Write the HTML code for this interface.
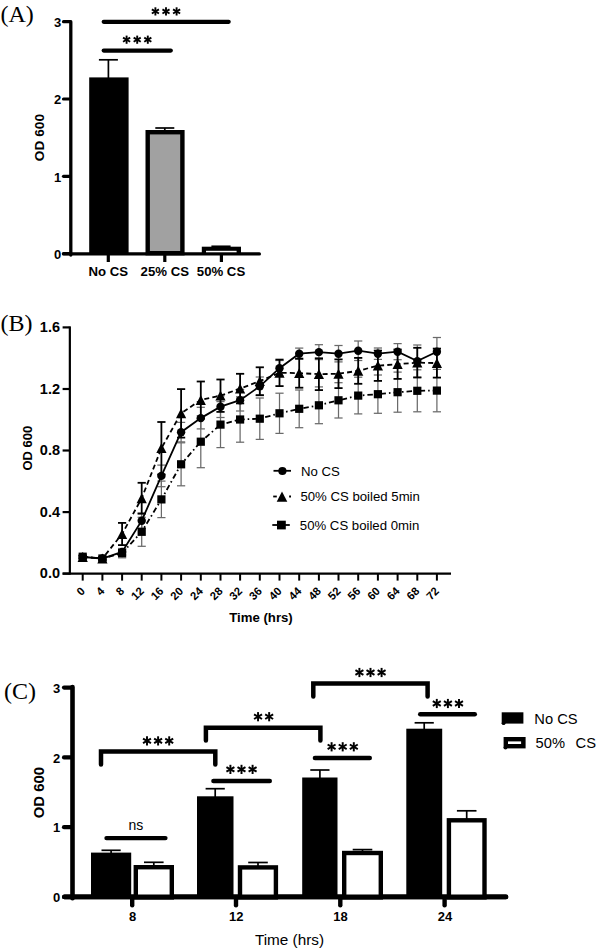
<!DOCTYPE html>
<html><head><meta charset="utf-8"><title>Figure</title>
<style>html,body{margin:0;padding:0;background:#fff;}body{width:598px;height:951px;overflow:hidden;font-family:"Liberation Sans",sans-serif;}svg{display:block;}</style>
</head><body>
<svg width="598" height="951" viewBox="0 0 598 951">
<rect width="598" height="951" fill="#fff"/>
<text x="0.5" y="22" font-family="Liberation Serif, serif" font-size="24">(A)</text>
<line x1="70.8" y1="21.700000000000017" x2="70.8" y2="255" stroke="#000" stroke-width="3.3" stroke-linecap="round"/>
<line x1="63.5" y1="253.9" x2="259.4" y2="253.9" stroke="#000" stroke-width="3.3" stroke-linecap="round"/>
<line x1="63.5" y1="253.6" x2="70" y2="253.6" stroke="#000" stroke-width="3.2" stroke-linecap="round"/>
<text x="61.2" y="258.9" font-family="Liberation Sans, sans-serif" font-size="13" font-weight="bold" text-anchor="end">0</text>
<line x1="63.5" y1="176.3" x2="70" y2="176.3" stroke="#000" stroke-width="3.2" stroke-linecap="round"/>
<text x="61.2" y="181.6" font-family="Liberation Sans, sans-serif" font-size="13" font-weight="bold" text-anchor="end">1</text>
<line x1="63.5" y1="99.0" x2="70" y2="99.0" stroke="#000" stroke-width="3.2" stroke-linecap="round"/>
<text x="61.2" y="104.3" font-family="Liberation Sans, sans-serif" font-size="13" font-weight="bold" text-anchor="end">2</text>
<line x1="63.5" y1="21.7" x2="70" y2="21.7" stroke="#000" stroke-width="3.2" stroke-linecap="round"/>
<text x="61.2" y="27.0" font-family="Liberation Sans, sans-serif" font-size="13" font-weight="bold" text-anchor="end">3</text>
<line x1="108.3" y1="254" x2="108.3" y2="262" stroke="#000" stroke-width="3.2"/>
<line x1="164.8" y1="254" x2="164.8" y2="262" stroke="#000" stroke-width="3.2"/>
<line x1="221.4" y1="254" x2="221.4" y2="262" stroke="#000" stroke-width="3.2"/>
<text x="108.3" y="275.9" font-family="Liberation Sans, sans-serif" font-size="13.2" font-weight="bold" text-anchor="middle">No CS</text>
<text x="164.8" y="275.9" font-family="Liberation Sans, sans-serif" font-size="13.2" font-weight="bold" text-anchor="middle">25% CS</text>
<text x="221.0" y="275.9" font-family="Liberation Sans, sans-serif" font-size="13.2" font-weight="bold" text-anchor="middle">50% CS</text>
<text transform="translate(44.4,137.6) rotate(-90)" font-family="Liberation Sans, sans-serif" font-size="13.7" font-weight="bold" text-anchor="middle">OD 600</text>
<line x1="108.4" y1="59.8" x2="108.4" y2="78" stroke="#000" stroke-width="1.7"/><line x1="98.9" y1="59.8" x2="117.9" y2="59.8" stroke="#000" stroke-width="1.7"/>
<line x1="164.8" y1="128" x2="164.8" y2="131" stroke="#000" stroke-width="1.7"/><line x1="155.3" y1="128" x2="174.3" y2="128" stroke="#000" stroke-width="1.7"/>
<line x1="221" y1="246.3" x2="221" y2="248" stroke="#000" stroke-width="1.7"/><line x1="211.4" y1="246.3" x2="230.6" y2="246.3" stroke="#000" stroke-width="1.7"/>
<rect x="89.2" y="77.4" width="39.4" height="176.3" fill="#000"/>
<rect x="147.7" y="132.2" width="34.7" height="121" fill="#a1a1a1" stroke="#000" stroke-width="4.4"/>
<rect x="201.8" y="246.7" width="39.2" height="7" fill="#000"/><rect x="206" y="250.8" width="30.6" height="1.5" fill="#fff"/>
<line x1="103.7" y1="50.6" x2="170.8" y2="50.6" stroke="#000" stroke-width="4.2" stroke-linecap="round"/>
<line x1="103.7" y1="21.8" x2="228.7" y2="21.8" stroke="#000" stroke-width="4.2" stroke-linecap="round"/>
<line x1="126.60" y1="35.60" x2="126.60" y2="43.80" stroke="#000" stroke-width="1.9"/><line x1="123.05" y1="37.65" x2="130.15" y2="41.75" stroke="#000" stroke-width="1.9"/><line x1="123.05" y1="41.75" x2="130.15" y2="37.65" stroke="#000" stroke-width="1.9"/><line x1="137.20" y1="35.60" x2="137.20" y2="43.80" stroke="#000" stroke-width="1.9"/><line x1="133.65" y1="37.65" x2="140.75" y2="41.75" stroke="#000" stroke-width="1.9"/><line x1="133.65" y1="41.75" x2="140.75" y2="37.65" stroke="#000" stroke-width="1.9"/><line x1="147.80" y1="35.60" x2="147.80" y2="43.80" stroke="#000" stroke-width="1.9"/><line x1="144.25" y1="37.65" x2="151.35" y2="41.75" stroke="#000" stroke-width="1.9"/><line x1="144.25" y1="41.75" x2="151.35" y2="37.65" stroke="#000" stroke-width="1.9"/>
<line x1="155.40" y1="7.30" x2="155.40" y2="15.50" stroke="#000" stroke-width="1.9"/><line x1="151.85" y1="9.35" x2="158.95" y2="13.45" stroke="#000" stroke-width="1.9"/><line x1="151.85" y1="13.45" x2="158.95" y2="9.35" stroke="#000" stroke-width="1.9"/><line x1="166.00" y1="7.30" x2="166.00" y2="15.50" stroke="#000" stroke-width="1.9"/><line x1="162.45" y1="9.35" x2="169.55" y2="13.45" stroke="#000" stroke-width="1.9"/><line x1="162.45" y1="13.45" x2="169.55" y2="9.35" stroke="#000" stroke-width="1.9"/><line x1="176.60" y1="7.30" x2="176.60" y2="15.50" stroke="#000" stroke-width="1.9"/><line x1="173.05" y1="9.35" x2="180.15" y2="13.45" stroke="#000" stroke-width="1.9"/><line x1="173.05" y1="13.45" x2="180.15" y2="9.35" stroke="#000" stroke-width="1.9"/>
<text x="0.5" y="330.5" font-family="Liberation Serif, serif" font-size="24">(B)</text>
<line x1="69.85" y1="326.34000000000003" x2="69.85" y2="574.6" stroke="#000" stroke-width="2.2"/>
<line x1="62.6" y1="573.6" x2="451" y2="573.6" stroke="#000" stroke-width="2.2"/>
<line x1="62.6" y1="573.6" x2="69.5" y2="573.6" stroke="#000" stroke-width="2.2"/>
<text x="60" y="578.4" font-family="Liberation Sans, sans-serif" font-size="14.5" font-weight="bold" text-anchor="end">0.0</text>
<line x1="62.6" y1="512.1" x2="69.5" y2="512.1" stroke="#000" stroke-width="2.2"/>
<text x="60" y="516.9" font-family="Liberation Sans, sans-serif" font-size="14.5" font-weight="bold" text-anchor="end">0.4</text>
<line x1="62.6" y1="450.5" x2="69.5" y2="450.5" stroke="#000" stroke-width="2.2"/>
<text x="60" y="455.3" font-family="Liberation Sans, sans-serif" font-size="14.5" font-weight="bold" text-anchor="end">0.8</text>
<line x1="62.6" y1="389.0" x2="69.5" y2="389.0" stroke="#000" stroke-width="2.2"/>
<text x="60" y="393.8" font-family="Liberation Sans, sans-serif" font-size="14.5" font-weight="bold" text-anchor="end">1.2</text>
<line x1="62.6" y1="327.4" x2="69.5" y2="327.4" stroke="#000" stroke-width="2.2"/>
<text x="60" y="332.2" font-family="Liberation Sans, sans-serif" font-size="14.5" font-weight="bold" text-anchor="end">1.6</text>
<line x1="82.7" y1="573" x2="82.7" y2="580.6" stroke="#000" stroke-width="2"/>
<text transform="translate(85.6,591.8) rotate(-45)" font-family="Liberation Sans, sans-serif" font-size="11.3" font-weight="bold" text-anchor="end">0</text>
<line x1="102.4" y1="573" x2="102.4" y2="580.6" stroke="#000" stroke-width="2"/>
<text transform="translate(105.3,591.8) rotate(-45)" font-family="Liberation Sans, sans-serif" font-size="11.3" font-weight="bold" text-anchor="end">4</text>
<line x1="122.1" y1="573" x2="122.1" y2="580.6" stroke="#000" stroke-width="2"/>
<text transform="translate(125.0,591.8) rotate(-45)" font-family="Liberation Sans, sans-serif" font-size="11.3" font-weight="bold" text-anchor="end">8</text>
<line x1="141.7" y1="573" x2="141.7" y2="580.6" stroke="#000" stroke-width="2"/>
<text transform="translate(144.6,591.8) rotate(-45)" font-family="Liberation Sans, sans-serif" font-size="11.3" font-weight="bold" text-anchor="end">12</text>
<line x1="161.4" y1="573" x2="161.4" y2="580.6" stroke="#000" stroke-width="2"/>
<text transform="translate(164.3,591.8) rotate(-45)" font-family="Liberation Sans, sans-serif" font-size="11.3" font-weight="bold" text-anchor="end">16</text>
<line x1="181.1" y1="573" x2="181.1" y2="580.6" stroke="#000" stroke-width="2"/>
<text transform="translate(184.0,591.8) rotate(-45)" font-family="Liberation Sans, sans-serif" font-size="11.3" font-weight="bold" text-anchor="end">20</text>
<line x1="200.8" y1="573" x2="200.8" y2="580.6" stroke="#000" stroke-width="2"/>
<text transform="translate(203.7,591.8) rotate(-45)" font-family="Liberation Sans, sans-serif" font-size="11.3" font-weight="bold" text-anchor="end">24</text>
<line x1="220.5" y1="573" x2="220.5" y2="580.6" stroke="#000" stroke-width="2"/>
<text transform="translate(223.4,591.8) rotate(-45)" font-family="Liberation Sans, sans-serif" font-size="11.3" font-weight="bold" text-anchor="end">28</text>
<line x1="240.1" y1="573" x2="240.1" y2="580.6" stroke="#000" stroke-width="2"/>
<text transform="translate(243.0,591.8) rotate(-45)" font-family="Liberation Sans, sans-serif" font-size="11.3" font-weight="bold" text-anchor="end">32</text>
<line x1="259.8" y1="573" x2="259.8" y2="580.6" stroke="#000" stroke-width="2"/>
<text transform="translate(262.7,591.8) rotate(-45)" font-family="Liberation Sans, sans-serif" font-size="11.3" font-weight="bold" text-anchor="end">36</text>
<line x1="279.5" y1="573" x2="279.5" y2="580.6" stroke="#000" stroke-width="2"/>
<text transform="translate(282.4,591.8) rotate(-45)" font-family="Liberation Sans, sans-serif" font-size="11.3" font-weight="bold" text-anchor="end">40</text>
<line x1="299.2" y1="573" x2="299.2" y2="580.6" stroke="#000" stroke-width="2"/>
<text transform="translate(302.1,591.8) rotate(-45)" font-family="Liberation Sans, sans-serif" font-size="11.3" font-weight="bold" text-anchor="end">44</text>
<line x1="318.9" y1="573" x2="318.9" y2="580.6" stroke="#000" stroke-width="2"/>
<text transform="translate(321.8,591.8) rotate(-45)" font-family="Liberation Sans, sans-serif" font-size="11.3" font-weight="bold" text-anchor="end">48</text>
<line x1="338.5" y1="573" x2="338.5" y2="580.6" stroke="#000" stroke-width="2"/>
<text transform="translate(341.4,591.8) rotate(-45)" font-family="Liberation Sans, sans-serif" font-size="11.3" font-weight="bold" text-anchor="end">52</text>
<line x1="358.2" y1="573" x2="358.2" y2="580.6" stroke="#000" stroke-width="2"/>
<text transform="translate(361.1,591.8) rotate(-45)" font-family="Liberation Sans, sans-serif" font-size="11.3" font-weight="bold" text-anchor="end">56</text>
<line x1="377.9" y1="573" x2="377.9" y2="580.6" stroke="#000" stroke-width="2"/>
<text transform="translate(380.8,591.8) rotate(-45)" font-family="Liberation Sans, sans-serif" font-size="11.3" font-weight="bold" text-anchor="end">60</text>
<line x1="397.6" y1="573" x2="397.6" y2="580.6" stroke="#000" stroke-width="2"/>
<text transform="translate(400.5,591.8) rotate(-45)" font-family="Liberation Sans, sans-serif" font-size="11.3" font-weight="bold" text-anchor="end">64</text>
<line x1="417.3" y1="573" x2="417.3" y2="580.6" stroke="#000" stroke-width="2"/>
<text transform="translate(420.2,591.8) rotate(-45)" font-family="Liberation Sans, sans-serif" font-size="11.3" font-weight="bold" text-anchor="end">68</text>
<line x1="436.9" y1="573" x2="436.9" y2="580.6" stroke="#000" stroke-width="2"/>
<text transform="translate(439.8,591.8) rotate(-45)" font-family="Liberation Sans, sans-serif" font-size="11.3" font-weight="bold" text-anchor="end">72</text>
<text x="261" y="621.5" font-family="Liberation Sans, sans-serif" font-size="13.2" font-weight="bold" text-anchor="middle">Time (hrs)</text>
<text transform="translate(32.1,448.2) rotate(-90)" font-family="Liberation Sans, sans-serif" font-size="13" font-weight="bold" text-anchor="middle">OD 600</text>
<line x1="82.7" y1="555.2" x2="82.7" y2="558.2" stroke="#6a6a6a" stroke-width="1.25"/><line x1="78.6" y1="555.2" x2="86.8" y2="555.2" stroke="#6a6a6a" stroke-width="1.25"/><line x1="78.6" y1="558.2" x2="86.8" y2="558.2" stroke="#6a6a6a" stroke-width="1.25"/>
<line x1="82.7" y1="555.5" x2="82.7" y2="558.5" stroke="#6a6a6a" stroke-width="1.25"/><line x1="78.6" y1="555.5" x2="86.8" y2="555.5" stroke="#6a6a6a" stroke-width="1.25"/><line x1="78.6" y1="558.5" x2="86.8" y2="558.5" stroke="#6a6a6a" stroke-width="1.25"/>
<line x1="102.4" y1="557.0" x2="102.4" y2="560.1" stroke="#6a6a6a" stroke-width="1.25"/><line x1="98.3" y1="557.0" x2="106.5" y2="557.0" stroke="#6a6a6a" stroke-width="1.25"/><line x1="98.3" y1="560.1" x2="106.5" y2="560.1" stroke="#6a6a6a" stroke-width="1.25"/>
<line x1="102.4" y1="557.0" x2="102.4" y2="560.1" stroke="#6a6a6a" stroke-width="1.25"/><line x1="98.3" y1="557.0" x2="106.5" y2="557.0" stroke="#6a6a6a" stroke-width="1.25"/><line x1="98.3" y1="560.1" x2="106.5" y2="560.1" stroke="#6a6a6a" stroke-width="1.25"/>
<line x1="122.1" y1="548.5" x2="122.1" y2="557.8" stroke="#6a6a6a" stroke-width="1.25"/><line x1="118.0" y1="548.5" x2="126.2" y2="548.5" stroke="#6a6a6a" stroke-width="1.25"/><line x1="118.0" y1="557.8" x2="126.2" y2="557.8" stroke="#6a6a6a" stroke-width="1.25"/>
<line x1="122.1" y1="548.8" x2="122.1" y2="555.0" stroke="#6a6a6a" stroke-width="1.25"/><line x1="118.0" y1="548.8" x2="126.2" y2="548.8" stroke="#6a6a6a" stroke-width="1.25"/><line x1="118.0" y1="555.0" x2="126.2" y2="555.0" stroke="#6a6a6a" stroke-width="1.25"/>
<line x1="141.7" y1="517.3" x2="141.7" y2="546.3" stroke="#6a6a6a" stroke-width="1.25"/><line x1="137.6" y1="517.3" x2="145.8" y2="517.3" stroke="#6a6a6a" stroke-width="1.25"/><line x1="137.6" y1="546.3" x2="145.8" y2="546.3" stroke="#6a6a6a" stroke-width="1.25"/>
<line x1="141.7" y1="513.0" x2="141.7" y2="528.4" stroke="#6a6a6a" stroke-width="1.25"/><line x1="137.6" y1="513.0" x2="145.8" y2="513.0" stroke="#6a6a6a" stroke-width="1.25"/><line x1="137.6" y1="528.4" x2="145.8" y2="528.4" stroke="#6a6a6a" stroke-width="1.25"/>
<line x1="161.4" y1="481.1" x2="161.4" y2="517.6" stroke="#6a6a6a" stroke-width="1.25"/><line x1="157.3" y1="481.1" x2="165.5" y2="481.1" stroke="#6a6a6a" stroke-width="1.25"/><line x1="157.3" y1="517.6" x2="165.5" y2="517.6" stroke="#6a6a6a" stroke-width="1.25"/>
<line x1="161.4" y1="465.1" x2="161.4" y2="486.7" stroke="#6a6a6a" stroke-width="1.25"/><line x1="157.3" y1="465.1" x2="165.5" y2="465.1" stroke="#6a6a6a" stroke-width="1.25"/><line x1="157.3" y1="486.7" x2="165.5" y2="486.7" stroke="#6a6a6a" stroke-width="1.25"/>
<line x1="181.1" y1="442.8" x2="181.1" y2="485.8" stroke="#6a6a6a" stroke-width="1.25"/><line x1="177.0" y1="442.8" x2="185.2" y2="442.8" stroke="#6a6a6a" stroke-width="1.25"/><line x1="177.0" y1="485.8" x2="185.2" y2="485.8" stroke="#6a6a6a" stroke-width="1.25"/>
<line x1="181.1" y1="422.4" x2="181.1" y2="441.9" stroke="#6a6a6a" stroke-width="1.25"/><line x1="177.0" y1="422.4" x2="185.2" y2="422.4" stroke="#6a6a6a" stroke-width="1.25"/><line x1="177.0" y1="441.9" x2="185.2" y2="441.9" stroke="#6a6a6a" stroke-width="1.25"/>
<line x1="200.8" y1="415.8" x2="200.8" y2="467.7" stroke="#6a6a6a" stroke-width="1.25"/><line x1="196.7" y1="415.8" x2="204.9" y2="415.8" stroke="#6a6a6a" stroke-width="1.25"/><line x1="196.7" y1="467.7" x2="204.9" y2="467.7" stroke="#6a6a6a" stroke-width="1.25"/>
<line x1="200.8" y1="407.3" x2="200.8" y2="428.9" stroke="#6a6a6a" stroke-width="1.25"/><line x1="196.7" y1="407.3" x2="204.9" y2="407.3" stroke="#6a6a6a" stroke-width="1.25"/><line x1="196.7" y1="428.9" x2="204.9" y2="428.9" stroke="#6a6a6a" stroke-width="1.25"/>
<line x1="220.5" y1="401.6" x2="220.5" y2="447.6" stroke="#6a6a6a" stroke-width="1.25"/><line x1="216.4" y1="401.6" x2="224.6" y2="401.6" stroke="#6a6a6a" stroke-width="1.25"/><line x1="216.4" y1="447.6" x2="224.6" y2="447.6" stroke="#6a6a6a" stroke-width="1.25"/>
<line x1="220.5" y1="395.9" x2="220.5" y2="417.5" stroke="#6a6a6a" stroke-width="1.25"/><line x1="216.4" y1="395.9" x2="224.6" y2="395.9" stroke="#6a6a6a" stroke-width="1.25"/><line x1="216.4" y1="417.5" x2="224.6" y2="417.5" stroke="#6a6a6a" stroke-width="1.25"/>
<line x1="240.1" y1="396.8" x2="240.1" y2="442.2" stroke="#6a6a6a" stroke-width="1.25"/><line x1="236.0" y1="396.8" x2="244.2" y2="396.8" stroke="#6a6a6a" stroke-width="1.25"/><line x1="236.0" y1="442.2" x2="244.2" y2="442.2" stroke="#6a6a6a" stroke-width="1.25"/>
<line x1="240.1" y1="389.4" x2="240.1" y2="411.0" stroke="#6a6a6a" stroke-width="1.25"/><line x1="236.0" y1="389.4" x2="244.2" y2="389.4" stroke="#6a6a6a" stroke-width="1.25"/><line x1="236.0" y1="411.0" x2="244.2" y2="411.0" stroke="#6a6a6a" stroke-width="1.25"/>
<line x1="259.8" y1="398.0" x2="259.8" y2="439.4" stroke="#6a6a6a" stroke-width="1.25"/><line x1="255.7" y1="398.0" x2="263.9" y2="398.0" stroke="#6a6a6a" stroke-width="1.25"/><line x1="255.7" y1="439.4" x2="263.9" y2="439.4" stroke="#6a6a6a" stroke-width="1.25"/>
<line x1="259.8" y1="377.0" x2="259.8" y2="395.6" stroke="#6a6a6a" stroke-width="1.25"/><line x1="255.7" y1="377.0" x2="263.9" y2="377.0" stroke="#6a6a6a" stroke-width="1.25"/><line x1="255.7" y1="395.6" x2="263.9" y2="395.6" stroke="#6a6a6a" stroke-width="1.25"/>
<line x1="279.5" y1="393.2" x2="279.5" y2="433.4" stroke="#6a6a6a" stroke-width="1.25"/><line x1="275.4" y1="393.2" x2="283.6" y2="393.2" stroke="#6a6a6a" stroke-width="1.25"/><line x1="275.4" y1="433.4" x2="283.6" y2="433.4" stroke="#6a6a6a" stroke-width="1.25"/>
<line x1="279.5" y1="360.5" x2="279.5" y2="375.9" stroke="#6a6a6a" stroke-width="1.25"/><line x1="275.4" y1="360.5" x2="283.6" y2="360.5" stroke="#6a6a6a" stroke-width="1.25"/><line x1="275.4" y1="375.9" x2="283.6" y2="375.9" stroke="#6a6a6a" stroke-width="1.25"/>
<line x1="299.2" y1="390.0" x2="299.2" y2="427.7" stroke="#6a6a6a" stroke-width="1.25"/><line x1="295.1" y1="390.0" x2="303.3" y2="390.0" stroke="#6a6a6a" stroke-width="1.25"/><line x1="295.1" y1="427.7" x2="303.3" y2="427.7" stroke="#6a6a6a" stroke-width="1.25"/>
<line x1="299.2" y1="348.1" x2="299.2" y2="359.2" stroke="#6a6a6a" stroke-width="1.25"/><line x1="295.1" y1="348.1" x2="303.3" y2="348.1" stroke="#6a6a6a" stroke-width="1.25"/><line x1="295.1" y1="359.2" x2="303.3" y2="359.2" stroke="#6a6a6a" stroke-width="1.25"/>
<line x1="318.9" y1="386.9" x2="318.9" y2="423.7" stroke="#6a6a6a" stroke-width="1.25"/><line x1="314.8" y1="386.9" x2="323.0" y2="386.9" stroke="#6a6a6a" stroke-width="1.25"/><line x1="314.8" y1="423.7" x2="323.0" y2="423.7" stroke="#6a6a6a" stroke-width="1.25"/>
<line x1="318.9" y1="344.7" x2="318.9" y2="359.6" stroke="#6a6a6a" stroke-width="1.25"/><line x1="314.8" y1="344.7" x2="323.0" y2="344.7" stroke="#6a6a6a" stroke-width="1.25"/><line x1="314.8" y1="359.6" x2="323.0" y2="359.6" stroke="#6a6a6a" stroke-width="1.25"/>
<line x1="338.5" y1="382.7" x2="338.5" y2="418.0" stroke="#6a6a6a" stroke-width="1.25"/><line x1="334.4" y1="382.7" x2="342.6" y2="382.7" stroke="#6a6a6a" stroke-width="1.25"/><line x1="334.4" y1="418.0" x2="342.6" y2="418.0" stroke="#6a6a6a" stroke-width="1.25"/>
<line x1="338.5" y1="345.5" x2="338.5" y2="361.9" stroke="#6a6a6a" stroke-width="1.25"/><line x1="334.4" y1="345.5" x2="342.6" y2="345.5" stroke="#6a6a6a" stroke-width="1.25"/><line x1="334.4" y1="361.9" x2="342.6" y2="361.9" stroke="#6a6a6a" stroke-width="1.25"/>
<line x1="358.2" y1="377.2" x2="358.2" y2="413.9" stroke="#6a6a6a" stroke-width="1.25"/><line x1="354.1" y1="377.2" x2="362.3" y2="377.2" stroke="#6a6a6a" stroke-width="1.25"/><line x1="354.1" y1="413.9" x2="362.3" y2="413.9" stroke="#6a6a6a" stroke-width="1.25"/>
<line x1="358.2" y1="341.0" x2="358.2" y2="360.5" stroke="#6a6a6a" stroke-width="1.25"/><line x1="354.1" y1="341.0" x2="362.3" y2="341.0" stroke="#6a6a6a" stroke-width="1.25"/><line x1="354.1" y1="360.5" x2="362.3" y2="360.5" stroke="#6a6a6a" stroke-width="1.25"/>
<line x1="377.9" y1="375.0" x2="377.9" y2="413.3" stroke="#6a6a6a" stroke-width="1.25"/><line x1="373.8" y1="375.0" x2="382.0" y2="375.0" stroke="#6a6a6a" stroke-width="1.25"/><line x1="373.8" y1="413.3" x2="382.0" y2="413.3" stroke="#6a6a6a" stroke-width="1.25"/>
<line x1="377.9" y1="348.0" x2="377.9" y2="359.4" stroke="#6a6a6a" stroke-width="1.25"/><line x1="373.8" y1="348.0" x2="382.0" y2="348.0" stroke="#6a6a6a" stroke-width="1.25"/><line x1="373.8" y1="359.4" x2="382.0" y2="359.4" stroke="#6a6a6a" stroke-width="1.25"/>
<line x1="397.6" y1="372.1" x2="397.6" y2="412.2" stroke="#6a6a6a" stroke-width="1.25"/><line x1="393.5" y1="372.1" x2="401.7" y2="372.1" stroke="#6a6a6a" stroke-width="1.25"/><line x1="393.5" y1="412.2" x2="401.7" y2="412.2" stroke="#6a6a6a" stroke-width="1.25"/>
<line x1="397.6" y1="343.6" x2="397.6" y2="359.7" stroke="#6a6a6a" stroke-width="1.25"/><line x1="393.5" y1="343.6" x2="401.7" y2="343.6" stroke="#6a6a6a" stroke-width="1.25"/><line x1="393.5" y1="359.7" x2="401.7" y2="359.7" stroke="#6a6a6a" stroke-width="1.25"/>
<line x1="417.3" y1="369.8" x2="417.3" y2="411.8" stroke="#6a6a6a" stroke-width="1.25"/><line x1="413.2" y1="369.8" x2="421.4" y2="369.8" stroke="#6a6a6a" stroke-width="1.25"/><line x1="413.2" y1="411.8" x2="421.4" y2="411.8" stroke="#6a6a6a" stroke-width="1.25"/>
<line x1="417.3" y1="345.0" x2="417.3" y2="377.2" stroke="#6a6a6a" stroke-width="1.25"/><line x1="413.2" y1="345.0" x2="421.4" y2="345.0" stroke="#6a6a6a" stroke-width="1.25"/><line x1="413.2" y1="377.2" x2="421.4" y2="377.2" stroke="#6a6a6a" stroke-width="1.25"/>
<line x1="436.9" y1="369.4" x2="436.9" y2="411.8" stroke="#6a6a6a" stroke-width="1.25"/><line x1="432.8" y1="369.4" x2="441.0" y2="369.4" stroke="#6a6a6a" stroke-width="1.25"/><line x1="432.8" y1="411.8" x2="441.0" y2="411.8" stroke="#6a6a6a" stroke-width="1.25"/>
<line x1="436.9" y1="337.5" x2="436.9" y2="365.9" stroke="#6a6a6a" stroke-width="1.25"/><line x1="432.8" y1="337.5" x2="441.0" y2="337.5" stroke="#6a6a6a" stroke-width="1.25"/><line x1="432.8" y1="365.9" x2="441.0" y2="365.9" stroke="#6a6a6a" stroke-width="1.25"/>
<line x1="82.7" y1="555.5" x2="82.7" y2="558.5" stroke="#000" stroke-width="1.8"/><line x1="78.6" y1="555.5" x2="86.8" y2="555.5" stroke="#000" stroke-width="1.8"/><line x1="78.6" y1="558.5" x2="86.8" y2="558.5" stroke="#000" stroke-width="1.8"/>
<line x1="102.4" y1="557.0" x2="102.4" y2="560.1" stroke="#000" stroke-width="1.8"/><line x1="98.3" y1="557.0" x2="106.5" y2="557.0" stroke="#000" stroke-width="1.8"/><line x1="98.3" y1="560.1" x2="106.5" y2="560.1" stroke="#000" stroke-width="1.8"/>
<line x1="122.1" y1="522.9" x2="122.1" y2="545.1" stroke="#000" stroke-width="1.8"/><line x1="118.0" y1="522.9" x2="126.2" y2="522.9" stroke="#000" stroke-width="1.8"/><line x1="118.0" y1="545.1" x2="126.2" y2="545.1" stroke="#000" stroke-width="1.8"/>
<line x1="141.7" y1="482.8" x2="141.7" y2="513.7" stroke="#000" stroke-width="1.8"/><line x1="137.6" y1="482.8" x2="145.8" y2="482.8" stroke="#000" stroke-width="1.8"/><line x1="137.6" y1="513.7" x2="145.8" y2="513.7" stroke="#000" stroke-width="1.8"/>
<line x1="161.4" y1="422.0" x2="161.4" y2="474.5" stroke="#000" stroke-width="1.8"/><line x1="157.3" y1="422.0" x2="165.5" y2="422.0" stroke="#000" stroke-width="1.8"/><line x1="157.3" y1="474.5" x2="165.5" y2="474.5" stroke="#000" stroke-width="1.8"/>
<line x1="181.1" y1="389.1" x2="181.1" y2="437.6" stroke="#000" stroke-width="1.8"/><line x1="177.0" y1="389.1" x2="185.2" y2="389.1" stroke="#000" stroke-width="1.8"/><line x1="177.0" y1="437.6" x2="185.2" y2="437.6" stroke="#000" stroke-width="1.8"/>
<line x1="200.8" y1="381.5" x2="200.8" y2="418.6" stroke="#000" stroke-width="1.8"/><line x1="196.7" y1="381.5" x2="204.9" y2="381.5" stroke="#000" stroke-width="1.8"/><line x1="196.7" y1="418.6" x2="204.9" y2="418.6" stroke="#000" stroke-width="1.8"/>
<line x1="220.5" y1="379.5" x2="220.5" y2="411.9" stroke="#000" stroke-width="1.8"/><line x1="216.4" y1="379.5" x2="224.6" y2="379.5" stroke="#000" stroke-width="1.8"/><line x1="216.4" y1="411.9" x2="224.6" y2="411.9" stroke="#000" stroke-width="1.8"/>
<line x1="240.1" y1="373.8" x2="240.1" y2="403.4" stroke="#000" stroke-width="1.8"/><line x1="236.0" y1="373.8" x2="244.2" y2="373.8" stroke="#000" stroke-width="1.8"/><line x1="236.0" y1="403.4" x2="244.2" y2="403.4" stroke="#000" stroke-width="1.8"/>
<line x1="259.8" y1="367.3" x2="259.8" y2="395.1" stroke="#000" stroke-width="1.8"/><line x1="255.7" y1="367.3" x2="263.9" y2="367.3" stroke="#000" stroke-width="1.8"/><line x1="255.7" y1="395.1" x2="263.9" y2="395.1" stroke="#000" stroke-width="1.8"/>
<line x1="279.5" y1="359.6" x2="279.5" y2="386.1" stroke="#000" stroke-width="1.8"/><line x1="275.4" y1="359.6" x2="283.6" y2="359.6" stroke="#000" stroke-width="1.8"/><line x1="275.4" y1="386.1" x2="283.6" y2="386.1" stroke="#000" stroke-width="1.8"/>
<line x1="299.2" y1="358.6" x2="299.2" y2="387.7" stroke="#000" stroke-width="1.8"/><line x1="295.1" y1="358.6" x2="303.3" y2="358.6" stroke="#000" stroke-width="1.8"/><line x1="295.1" y1="387.7" x2="303.3" y2="387.7" stroke="#000" stroke-width="1.8"/>
<line x1="318.9" y1="358.3" x2="318.9" y2="390.1" stroke="#000" stroke-width="1.8"/><line x1="314.8" y1="358.3" x2="323.0" y2="358.3" stroke="#000" stroke-width="1.8"/><line x1="314.8" y1="390.1" x2="323.0" y2="390.1" stroke="#000" stroke-width="1.8"/>
<line x1="338.5" y1="359.4" x2="338.5" y2="388.1" stroke="#000" stroke-width="1.8"/><line x1="334.4" y1="359.4" x2="342.6" y2="359.4" stroke="#000" stroke-width="1.8"/><line x1="334.4" y1="388.1" x2="342.6" y2="388.1" stroke="#000" stroke-width="1.8"/>
<line x1="358.2" y1="357.9" x2="358.2" y2="383.8" stroke="#000" stroke-width="1.8"/><line x1="354.1" y1="357.9" x2="362.3" y2="357.9" stroke="#000" stroke-width="1.8"/><line x1="354.1" y1="383.8" x2="362.3" y2="383.8" stroke="#000" stroke-width="1.8"/>
<line x1="377.9" y1="350.6" x2="377.9" y2="380.9" stroke="#000" stroke-width="1.8"/><line x1="373.8" y1="350.6" x2="382.0" y2="350.6" stroke="#000" stroke-width="1.8"/><line x1="373.8" y1="380.9" x2="382.0" y2="380.9" stroke="#000" stroke-width="1.8"/>
<line x1="397.6" y1="349.5" x2="397.6" y2="378.9" stroke="#000" stroke-width="1.8"/><line x1="393.5" y1="349.5" x2="401.7" y2="349.5" stroke="#000" stroke-width="1.8"/><line x1="393.5" y1="378.9" x2="401.7" y2="378.9" stroke="#000" stroke-width="1.8"/>
<line x1="417.3" y1="347.8" x2="417.3" y2="377.5" stroke="#000" stroke-width="1.8"/><line x1="413.2" y1="347.8" x2="421.4" y2="347.8" stroke="#000" stroke-width="1.8"/><line x1="413.2" y1="377.5" x2="421.4" y2="377.5" stroke="#000" stroke-width="1.8"/>
<line x1="436.9" y1="348.6" x2="436.9" y2="377.6" stroke="#000" stroke-width="1.8"/><line x1="432.8" y1="348.6" x2="441.0" y2="348.6" stroke="#000" stroke-width="1.8"/><line x1="432.8" y1="377.6" x2="441.0" y2="377.6" stroke="#000" stroke-width="1.8"/>
<polyline points="82.7,556.7 102.4,558.5 122.1,553.1 141.7,531.8 161.4,499.4 181.1,464.3 200.8,441.7 220.5,424.6 240.1,419.5 259.8,418.7 279.5,413.3 299.2,408.8 318.9,405.3 338.5,400.3 358.2,395.6 377.9,394.2 397.6,392.2 417.3,390.8 436.9,390.6" fill="none" stroke="#000" stroke-width="1.8" stroke-dasharray="5.5 3 1.6 3"/>
<polyline points="82.7,557.0 102.4,558.5 122.1,534.0 141.7,498.3 161.4,448.2 181.1,413.3 200.8,400.0 220.5,395.7 240.1,388.6 259.8,381.2 279.5,372.8 299.2,373.1 318.9,374.2 338.5,373.8 358.2,370.8 377.9,365.7 397.6,364.2 417.3,362.6 436.9,363.1" fill="none" stroke="#000" stroke-width="1.8" stroke-dasharray="5 3.2"/>
<polyline points="82.7,557.0 102.4,558.5 122.1,551.9 141.7,520.7 161.4,475.9 181.1,432.2 200.8,418.1 220.5,406.7 240.1,400.2 259.8,386.3 279.5,368.2 299.2,353.7 318.9,352.1 338.5,353.7 358.2,350.7 377.9,353.7 397.6,351.7 417.3,361.1 436.9,351.7" fill="none" stroke="#000" stroke-width="1.8"/>
<rect x="78.6" y="552.6" width="8.2" height="8.2" fill="#000"/>
<rect x="98.3" y="554.4" width="8.2" height="8.2" fill="#000"/>
<rect x="118.0" y="549.0" width="8.2" height="8.2" fill="#000"/>
<rect x="137.6" y="527.7" width="8.2" height="8.2" fill="#000"/>
<rect x="157.3" y="495.3" width="8.2" height="8.2" fill="#000"/>
<rect x="177.0" y="460.2" width="8.2" height="8.2" fill="#000"/>
<rect x="196.7" y="437.6" width="8.2" height="8.2" fill="#000"/>
<rect x="216.4" y="420.5" width="8.2" height="8.2" fill="#000"/>
<rect x="236.0" y="415.4" width="8.2" height="8.2" fill="#000"/>
<rect x="255.7" y="414.6" width="8.2" height="8.2" fill="#000"/>
<rect x="275.4" y="409.2" width="8.2" height="8.2" fill="#000"/>
<rect x="295.1" y="404.7" width="8.2" height="8.2" fill="#000"/>
<rect x="314.8" y="401.2" width="8.2" height="8.2" fill="#000"/>
<rect x="334.4" y="396.2" width="8.2" height="8.2" fill="#000"/>
<rect x="354.1" y="391.5" width="8.2" height="8.2" fill="#000"/>
<rect x="373.8" y="390.1" width="8.2" height="8.2" fill="#000"/>
<rect x="393.5" y="388.1" width="8.2" height="8.2" fill="#000"/>
<rect x="413.2" y="386.7" width="8.2" height="8.2" fill="#000"/>
<rect x="432.8" y="386.5" width="8.2" height="8.2" fill="#000"/>
<polygon points="77.6,561.9 87.8,561.9 82.7,551.9" fill="#000"/>
<polygon points="97.3,563.4 107.5,563.4 102.4,553.4" fill="#000"/>
<polygon points="117.0,538.9 127.2,538.9 122.1,528.9" fill="#000"/>
<polygon points="136.6,503.2 146.8,503.2 141.7,493.2" fill="#000"/>
<polygon points="156.3,453.1 166.5,453.1 161.4,443.1" fill="#000"/>
<polygon points="176.0,418.2 186.2,418.2 181.1,408.2" fill="#000"/>
<polygon points="195.7,404.9 205.9,404.9 200.8,394.9" fill="#000"/>
<polygon points="215.4,400.6 225.6,400.6 220.5,390.6" fill="#000"/>
<polygon points="235.0,393.5 245.2,393.5 240.1,383.5" fill="#000"/>
<polygon points="254.7,386.1 264.9,386.1 259.8,376.1" fill="#000"/>
<polygon points="274.4,377.7 284.6,377.7 279.5,367.7" fill="#000"/>
<polygon points="294.1,378.0 304.3,378.0 299.2,368.0" fill="#000"/>
<polygon points="313.8,379.1 324.0,379.1 318.9,369.1" fill="#000"/>
<polygon points="333.4,378.7 343.6,378.7 338.5,368.7" fill="#000"/>
<polygon points="353.1,375.7 363.3,375.7 358.2,365.7" fill="#000"/>
<polygon points="372.8,370.6 383.0,370.6 377.9,360.6" fill="#000"/>
<polygon points="392.5,369.1 402.7,369.1 397.6,359.1" fill="#000"/>
<polygon points="412.2,367.5 422.4,367.5 417.3,357.5" fill="#000"/>
<polygon points="431.8,368.0 442.0,368.0 436.9,358.0" fill="#000"/>
<circle cx="82.7" cy="557.0" r="4.2" fill="#000"/>
<circle cx="102.4" cy="558.5" r="4.2" fill="#000"/>
<circle cx="122.1" cy="551.9" r="4.2" fill="#000"/>
<circle cx="141.7" cy="520.7" r="4.2" fill="#000"/>
<circle cx="161.4" cy="475.9" r="4.2" fill="#000"/>
<circle cx="181.1" cy="432.2" r="4.2" fill="#000"/>
<circle cx="200.8" cy="418.1" r="4.2" fill="#000"/>
<circle cx="220.5" cy="406.7" r="4.2" fill="#000"/>
<circle cx="240.1" cy="400.2" r="4.2" fill="#000"/>
<circle cx="259.8" cy="386.3" r="4.2" fill="#000"/>
<circle cx="279.5" cy="368.2" r="4.2" fill="#000"/>
<circle cx="299.2" cy="353.7" r="4.2" fill="#000"/>
<circle cx="318.9" cy="352.1" r="4.2" fill="#000"/>
<circle cx="338.5" cy="353.7" r="4.2" fill="#000"/>
<circle cx="358.2" cy="350.7" r="4.2" fill="#000"/>
<circle cx="377.9" cy="353.7" r="4.2" fill="#000"/>
<circle cx="397.6" cy="351.7" r="4.2" fill="#000"/>
<circle cx="417.3" cy="361.1" r="4.2" fill="#000"/>
<circle cx="436.9" cy="351.7" r="4.2" fill="#000"/>
<line x1="273.5" y1="470.8" x2="291" y2="470.8" stroke="#000" stroke-width="1.8"/><circle cx="282.4" cy="471" r="4.1" fill="#000"/>
<line x1="273.2" y1="496.5" x2="276.8" y2="496.5" stroke="#000" stroke-width="1.8"/><line x1="289.1" y1="496.5" x2="291" y2="496.5" stroke="#000" stroke-width="1.8"/><polygon points="276.7,501.8 287.3,501.8 282,491.5" fill="#000"/>
<line x1="272.3" y1="525" x2="289.8" y2="525" stroke="#000" stroke-width="1.8"/><rect x="277" y="520.7" width="8.8" height="8.7" fill="#000"/>
<text x="301.0" y="475.9" font-family="Liberation Sans, sans-serif" font-size="13.2">No CS</text>
<text x="300.4" y="501.3" font-family="Liberation Sans, sans-serif" font-size="13.2">50% CS boiled 5min</text>
<text x="299.8" y="529.6" font-family="Liberation Sans, sans-serif" font-size="13.2">50% CS boiled 0min</text>
<text x="4" y="699" font-family="Liberation Serif, serif" font-size="24">(C)</text>
<line x1="72.5" y1="687.1" x2="72.5" y2="898.2" stroke="#000" stroke-width="4.6" stroke-linecap="round"/>
<line x1="64.5" y1="896.9" x2="506" y2="896.9" stroke="#000" stroke-width="4.6" stroke-linecap="round"/>
<line x1="64" y1="897.0" x2="71" y2="897.0" stroke="#000" stroke-width="4.2" stroke-linecap="round"/>
<text x="60.2" y="902.1" font-family="Liberation Sans, sans-serif" font-size="13" font-weight="bold" text-anchor="end">0</text>
<line x1="64" y1="827.2" x2="71" y2="827.2" stroke="#000" stroke-width="4.2" stroke-linecap="round"/>
<text x="60.2" y="832.3" font-family="Liberation Sans, sans-serif" font-size="13" font-weight="bold" text-anchor="end">1</text>
<line x1="64" y1="757.4" x2="71" y2="757.4" stroke="#000" stroke-width="4.2" stroke-linecap="round"/>
<text x="60.2" y="762.5" font-family="Liberation Sans, sans-serif" font-size="13" font-weight="bold" text-anchor="end">2</text>
<line x1="64" y1="687.6" x2="71" y2="687.6" stroke="#000" stroke-width="4.2" stroke-linecap="round"/>
<text x="60.2" y="692.7" font-family="Liberation Sans, sans-serif" font-size="13" font-weight="bold" text-anchor="end">3</text>
<line x1="132.2" y1="897.5" x2="132.2" y2="905.3" stroke="#000" stroke-width="4.4" stroke-linecap="round"/>
<text x="132.5" y="920.7" font-family="Liberation Sans, sans-serif" font-size="13" font-weight="bold" text-anchor="middle">8</text>
<line x1="236.0" y1="897.5" x2="236.0" y2="905.3" stroke="#000" stroke-width="4.4" stroke-linecap="round"/>
<text x="236.3" y="920.7" font-family="Liberation Sans, sans-serif" font-size="13" font-weight="bold" text-anchor="middle">12</text>
<line x1="340.3" y1="897.5" x2="340.3" y2="905.3" stroke="#000" stroke-width="4.4" stroke-linecap="round"/>
<text x="340.6" y="920.7" font-family="Liberation Sans, sans-serif" font-size="13" font-weight="bold" text-anchor="middle">18</text>
<line x1="444.6" y1="897.5" x2="444.6" y2="905.3" stroke="#000" stroke-width="4.4" stroke-linecap="round"/>
<text x="444.90000000000003" y="920.7" font-family="Liberation Sans, sans-serif" font-size="13" font-weight="bold" text-anchor="middle">24</text>
<text text-anchor="middle" x="289.5" y="945.2" font-family="Liberation Sans, sans-serif" font-size="15.3">Time (hrs)</text>
<text transform="translate(44,792.6) rotate(-90)" font-family="Liberation Sans, sans-serif" font-size="14.9" font-weight="bold" text-anchor="middle">OD 600</text>
<line x1="111.1" y1="850.3" x2="111.1" y2="853.6" stroke="#000" stroke-width="1.7"/><line x1="101.5" y1="850.3" x2="120.69999999999999" y2="850.3" stroke="#000" stroke-width="1.7"/>
<rect x="91" y="852.6" width="40.2" height="44.8" fill="#000"/>
<line x1="153.8" y1="862.3" x2="153.8" y2="866" stroke="#000" stroke-width="1.7"/><line x1="144.0" y1="862.3" x2="163.60000000000002" y2="862.3" stroke="#000" stroke-width="1.7"/>
<rect x="135.8" y="867.2" width="36.0" height="30.2" fill="#fff" stroke="#000" stroke-width="4.4"/>
<line x1="215.2" y1="788.7" x2="215.2" y2="797.3" stroke="#000" stroke-width="1.7"/><line x1="205.6" y1="788.7" x2="224.79999999999998" y2="788.7" stroke="#000" stroke-width="1.7"/>
<rect x="197" y="796.3" width="36.5" height="101.1" fill="#000"/>
<line x1="258.0" y1="862.5" x2="258.0" y2="866.2" stroke="#000" stroke-width="1.7"/><line x1="248.2" y1="862.5" x2="267.8" y2="862.5" stroke="#000" stroke-width="1.7"/>
<rect x="240.0" y="867.4" width="35.9" height="30.0" fill="#fff" stroke="#000" stroke-width="4.4"/>
<line x1="319.9" y1="770" x2="319.9" y2="778.5" stroke="#000" stroke-width="1.7"/><line x1="310.29999999999995" y1="770" x2="329.5" y2="770" stroke="#000" stroke-width="1.7"/>
<rect x="302.2" y="777.5" width="35.3" height="119.9" fill="#000"/>
<line x1="362.5" y1="849.6" x2="362.5" y2="851.8" stroke="#000" stroke-width="1.7"/><line x1="352.7" y1="849.6" x2="372.3" y2="849.6" stroke="#000" stroke-width="1.7"/>
<rect x="344.2" y="853.0" width="36.6" height="44.4" fill="#fff" stroke="#000" stroke-width="4.4"/>
<line x1="424.2" y1="722.8" x2="424.2" y2="729.7" stroke="#000" stroke-width="1.7"/><line x1="414.59999999999997" y1="722.8" x2="433.8" y2="722.8" stroke="#000" stroke-width="1.7"/>
<rect x="406.3" y="728.7" width="35.9" height="168.7" fill="#000"/>
<line x1="466.7" y1="810.8" x2="466.7" y2="819.1" stroke="#000" stroke-width="1.7"/><line x1="456.9" y1="810.8" x2="476.5" y2="810.8" stroke="#000" stroke-width="1.7"/>
<rect x="448.9" y="820.3" width="35.6" height="77.1" fill="#fff" stroke="#000" stroke-width="4.4"/>
<line x1="64.5" y1="896.9" x2="506" y2="896.9" stroke="#000" stroke-width="4.6" stroke-linecap="round"/>
<line x1="106.5" y1="838.1" x2="165.4" y2="838.1" stroke="#000" stroke-width="4.4" stroke-linecap="round"/>
<text x="135.8" y="829.6" font-family="Liberation Sans, sans-serif" font-size="14" text-anchor="middle">ns</text>
<line x1="213.45" y1="781" x2="269.75" y2="781" stroke="#000" stroke-width="4.5" stroke-linecap="round"/>
<line x1="230.40" y1="764.80" x2="230.40" y2="774.00" stroke="#000" stroke-width="1.95"/><line x1="226.42" y1="767.10" x2="234.38" y2="771.70" stroke="#000" stroke-width="1.95"/><line x1="226.42" y1="771.70" x2="234.38" y2="767.10" stroke="#000" stroke-width="1.95"/><line x1="241.50" y1="764.80" x2="241.50" y2="774.00" stroke="#000" stroke-width="1.95"/><line x1="237.52" y1="767.10" x2="245.48" y2="771.70" stroke="#000" stroke-width="1.95"/><line x1="237.52" y1="771.70" x2="245.48" y2="767.10" stroke="#000" stroke-width="1.95"/><line x1="252.60" y1="764.80" x2="252.60" y2="774.00" stroke="#000" stroke-width="1.95"/><line x1="248.62" y1="767.10" x2="256.58" y2="771.70" stroke="#000" stroke-width="1.95"/><line x1="248.62" y1="771.70" x2="256.58" y2="767.10" stroke="#000" stroke-width="1.95"/>
<line x1="314.95" y1="758" x2="369.75" y2="758" stroke="#000" stroke-width="4.5" stroke-linecap="round"/>
<line x1="331.60" y1="742.20" x2="331.60" y2="751.40" stroke="#000" stroke-width="1.95"/><line x1="327.62" y1="744.50" x2="335.58" y2="749.10" stroke="#000" stroke-width="1.95"/><line x1="327.62" y1="749.10" x2="335.58" y2="744.50" stroke="#000" stroke-width="1.95"/><line x1="342.70" y1="742.20" x2="342.70" y2="751.40" stroke="#000" stroke-width="1.95"/><line x1="338.72" y1="744.50" x2="346.68" y2="749.10" stroke="#000" stroke-width="1.95"/><line x1="338.72" y1="749.10" x2="346.68" y2="744.50" stroke="#000" stroke-width="1.95"/><line x1="353.80" y1="742.20" x2="353.80" y2="751.40" stroke="#000" stroke-width="1.95"/><line x1="349.82" y1="744.50" x2="357.78" y2="749.10" stroke="#000" stroke-width="1.95"/><line x1="349.82" y1="749.10" x2="357.78" y2="744.50" stroke="#000" stroke-width="1.95"/>
<line x1="420.25" y1="714.2" x2="474.75" y2="714.2" stroke="#000" stroke-width="4.5" stroke-linecap="round"/>
<line x1="436.80" y1="698.90" x2="436.80" y2="708.10" stroke="#000" stroke-width="1.95"/><line x1="432.82" y1="701.20" x2="440.78" y2="705.80" stroke="#000" stroke-width="1.95"/><line x1="432.82" y1="705.80" x2="440.78" y2="701.20" stroke="#000" stroke-width="1.95"/><line x1="447.90" y1="698.90" x2="447.90" y2="708.10" stroke="#000" stroke-width="1.95"/><line x1="443.92" y1="701.20" x2="451.88" y2="705.80" stroke="#000" stroke-width="1.95"/><line x1="443.92" y1="705.80" x2="451.88" y2="701.20" stroke="#000" stroke-width="1.95"/><line x1="459.00" y1="698.90" x2="459.00" y2="708.10" stroke="#000" stroke-width="1.95"/><line x1="455.02" y1="701.20" x2="462.98" y2="705.80" stroke="#000" stroke-width="1.95"/><line x1="455.02" y1="705.80" x2="462.98" y2="701.20" stroke="#000" stroke-width="1.95"/>
<polyline points="101,764.45 101,751.5 215.3,751.5 215.3,764.45" fill="none" stroke="#000" stroke-width="4.5" stroke-linecap="round" stroke-linejoin="miter"/>
<line x1="147.00" y1="736.30" x2="147.00" y2="745.50" stroke="#000" stroke-width="1.95"/><line x1="143.02" y1="738.60" x2="150.98" y2="743.20" stroke="#000" stroke-width="1.95"/><line x1="143.02" y1="743.20" x2="150.98" y2="738.60" stroke="#000" stroke-width="1.95"/><line x1="158.10" y1="736.30" x2="158.10" y2="745.50" stroke="#000" stroke-width="1.95"/><line x1="154.12" y1="738.60" x2="162.08" y2="743.20" stroke="#000" stroke-width="1.95"/><line x1="154.12" y1="743.20" x2="162.08" y2="738.60" stroke="#000" stroke-width="1.95"/><line x1="169.20" y1="736.30" x2="169.20" y2="745.50" stroke="#000" stroke-width="1.95"/><line x1="165.22" y1="738.60" x2="173.18" y2="743.20" stroke="#000" stroke-width="1.95"/><line x1="165.22" y1="743.20" x2="173.18" y2="738.60" stroke="#000" stroke-width="1.95"/>
<polyline points="205.9,740.55 205.9,727.8 320.4,727.8 320.4,740.55" fill="none" stroke="#000" stroke-width="4.5" stroke-linecap="round" stroke-linejoin="miter"/>
<line x1="258.05" y1="712.10" x2="258.05" y2="721.30" stroke="#000" stroke-width="1.95"/><line x1="254.07" y1="714.40" x2="262.03" y2="719.00" stroke="#000" stroke-width="1.95"/><line x1="254.07" y1="719.00" x2="262.03" y2="714.40" stroke="#000" stroke-width="1.95"/><line x1="269.15" y1="712.10" x2="269.15" y2="721.30" stroke="#000" stroke-width="1.95"/><line x1="265.17" y1="714.40" x2="273.13" y2="719.00" stroke="#000" stroke-width="1.95"/><line x1="265.17" y1="719.00" x2="273.13" y2="714.40" stroke="#000" stroke-width="1.95"/>
<polyline points="313.3,696.55 313.3,683.6 427.6,683.6 427.6,696.55" fill="none" stroke="#000" stroke-width="4.5" stroke-linecap="round" stroke-linejoin="miter"/>
<line x1="359.40" y1="667.90" x2="359.40" y2="677.10" stroke="#000" stroke-width="1.95"/><line x1="355.42" y1="670.20" x2="363.38" y2="674.80" stroke="#000" stroke-width="1.95"/><line x1="355.42" y1="674.80" x2="363.38" y2="670.20" stroke="#000" stroke-width="1.95"/><line x1="370.50" y1="667.90" x2="370.50" y2="677.10" stroke="#000" stroke-width="1.95"/><line x1="366.52" y1="670.20" x2="374.48" y2="674.80" stroke="#000" stroke-width="1.95"/><line x1="366.52" y1="674.80" x2="374.48" y2="670.20" stroke="#000" stroke-width="1.95"/><line x1="381.60" y1="667.90" x2="381.60" y2="677.10" stroke="#000" stroke-width="1.95"/><line x1="377.62" y1="670.20" x2="385.58" y2="674.80" stroke="#000" stroke-width="1.95"/><line x1="377.62" y1="674.80" x2="385.58" y2="670.20" stroke="#000" stroke-width="1.95"/>
<rect x="501.7" y="712.3" width="21.7" height="11.3" fill="#000"/><circle cx="503.6" cy="723.2" r="1.9" fill="#000"/>
<rect x="503.6" y="737" width="22" height="11.4" fill="#000"/><rect x="508" y="741.4" width="13.1" height="2.6" fill="#fff"/><circle cx="505.5" cy="747.6" r="1.9" fill="#000"/>
<text x="534.3" y="723.5" font-family="Liberation Sans, sans-serif" font-size="14.7">No CS</text>
<text x="535.6" y="748.4" font-family="Liberation Sans, sans-serif" font-size="14.7">50%</text><text x="575.6" y="748.4" font-family="Liberation Sans, sans-serif" font-size="14.7">CS</text>
</svg>
</body></html>
